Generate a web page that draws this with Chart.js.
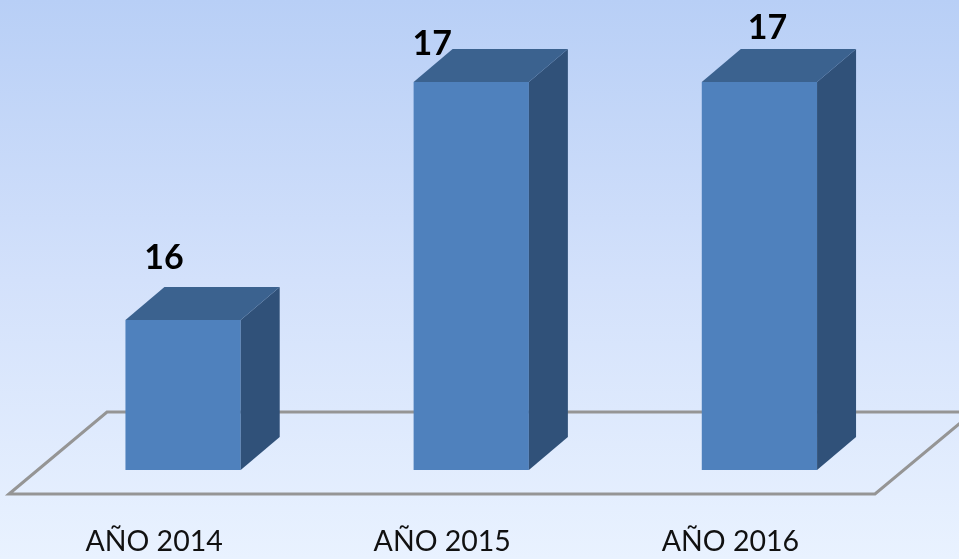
<!DOCTYPE html>
<html>
<head>
<meta charset="utf-8">
<script src="https://cdn.jsdelivr.net/npm/chart.js@4"></script>
<style>
html,body{margin:0;padding:0;width:959px;height:559px;overflow:hidden;background:linear-gradient(180deg,#b8cff6 0%,#d3e1fb 50%,#e9f2ff 100%);}
canvas{display:block;}
</style>
</head>
<body>
<canvas id="c" width="959" height="559"></canvas>
<script>
const categories = ["AÑO 2014", "AÑO 2015", "AÑO 2016"];
const values = [16, 17, 17];
const valueLabels = ["16", "17", "17"];

const depthX = 39, depthY = 33;
const labelShift = [[-19, -62], [-39, -38], [8, -54]];

const scene3d = {
  id: "scene3d",
  beforeDatasetsDraw(chart) {
    const { ctx, chartArea: a } = chart;
    const front = a.bottom + 24, back = a.bottom - 58;
    ctx.save();
    ctx.strokeStyle = "#959595";
    ctx.lineWidth = 3;
    ctx.lineJoin = "miter";
    ctx.beginPath();
    ctx.moveTo(a.left - 30, front);
    ctx.lineTo(a.left + 68, back);
    ctx.lineTo(a.right + 70, back);
    ctx.lineTo(a.right - 28.5, front);
    ctx.closePath();
    ctx.stroke();
    ctx.restore();
  },
  afterDatasetsDraw(chart) {
    const { ctx, chartArea: a } = chart;
    const meta = chart.getDatasetMeta(0);
    ctx.save();
    meta.data.forEach((bar) => {
      const hw = bar.width / 2;
      const l = bar.x - hw, r = bar.x + hw, t = bar.y, b = a.bottom;
      ctx.fillStyle = "#305179";
      ctx.beginPath();
      ctx.moveTo(r, t);
      ctx.lineTo(r + depthX, t - depthY);
      ctx.lineTo(r + depthX, b - depthY);
      ctx.lineTo(r, b);
      ctx.closePath();
      ctx.fill();
      ctx.fillStyle = "#3b628f";
      ctx.beginPath();
      ctx.moveTo(l, t);
      ctx.lineTo(l + depthX, t - depthY);
      ctx.lineTo(r + depthX, t - depthY);
      ctx.lineTo(r, t);
      ctx.closePath();
      ctx.fill();
    });
    ctx.fillStyle = "#000000";
    ctx.font = "bold 34px Lato";
    ctx.textAlign = "center";
    ctx.textBaseline = "middle";
    meta.data.forEach((bar, i) => {
      ctx.fillText(valueLabels[i], bar.x + labelShift[i][0], bar.y + labelShift[i][1]);
    });
    ctx.restore();
  }
};

new Chart(document.getElementById("c"), {
  type: "bar",
  data: {
    labels: categories,
    datasets: [{
      data: values,
      backgroundColor: "#4f81bd",
      borderWidth: 0,
      barPercentage: 0.8,
      categoryPercentage: 0.5
    }]
  },
  options: {
    responsive: false,
    animation: false,
    layout: { padding: { left: 39, right: 55.5, top: 0, bottom: 0 } },
    plugins: { legend: { display: false }, tooltip: { enabled: false }, title: { display: false } },
    scales: {
      x: {
        grid: { display: false },
        border: { display: false },
        afterFit(scale) { scale.height = 89; },
        ticks: {
          color: "#111111",
          font: { family: "Lato", size: 28.5 },
          padding: 47,
          labelOffset: -29,
          maxRotation: 0
        }
      },
      y: {
        display: false,
        min: 15.37,
        max: 17.345
      }
    }
  },
  plugins: [scene3d]
});
</script>
</body>
</html>
